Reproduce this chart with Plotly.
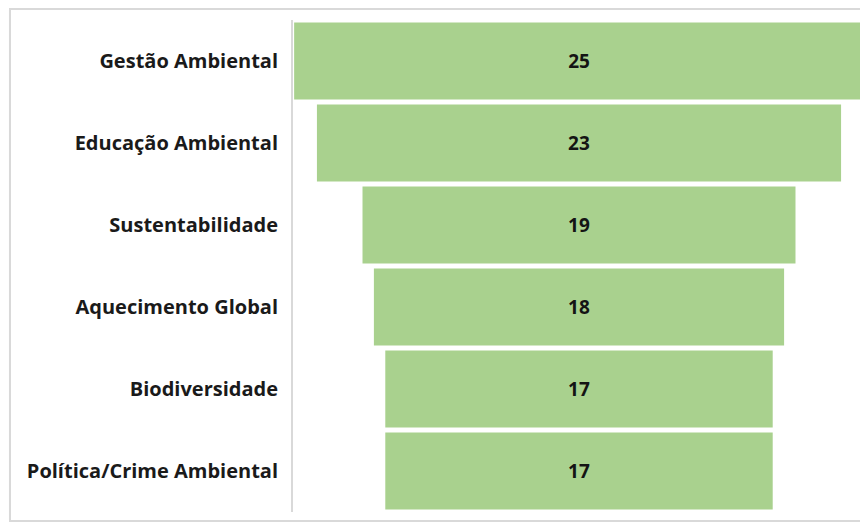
import plotly.graph_objects as go

categories = ["Gestão Ambiental", "Educação Ambiental", "Sustentabilidade",
              "Aquecimento Global", "Biodiversidade", "Política/Crime Ambiental"]
values = [25, 23, 19, 18, 17, 17]

fig = go.Figure(go.Funnel(
    y=categories,
    x=values,
    textinfo="value",
    textposition="inside",
    insidetextanchor="middle",
    textfont=dict(family="Open Sans", size=19, color="#141414", weight="bold"),
    marker=dict(color="#A9D18E", line=dict(width=0)),
    connector=dict(visible=False),
    hoverinfo="y+x",
))

fig.update_layout(
    width=860, height=514,
    margin=dict(l=285, r=3, t=12, b=10, autoexpand=False),
    paper_bgcolor="white",
    plot_bgcolor="white",
    showlegend=False,
    funnelgap=0.06,
    xaxis=dict(visible=False, range=[-12.55, 12.55]),
    yaxis=dict(
        categoryorder="array", categoryarray=categories, autorange="reversed",
        showline=True, linecolor="#d9d9d9", linewidth=2,
        showgrid=False, zeroline=False, ticks="",
        ticklabelstandoff=9,
        tickfont=dict(family="Open Sans", size=20, color="#1a1a1a", weight="bold"),
    ),
    shapes=[dict(type="rect", xref="paper", yref="paper",
                 x0=-0.4948, x1=1.02, y0=-0.0183, y1=1.0224,
                 line=dict(color="#d9d9d9", width=2), layer="below")],
)

fig.write_html("out.html")
